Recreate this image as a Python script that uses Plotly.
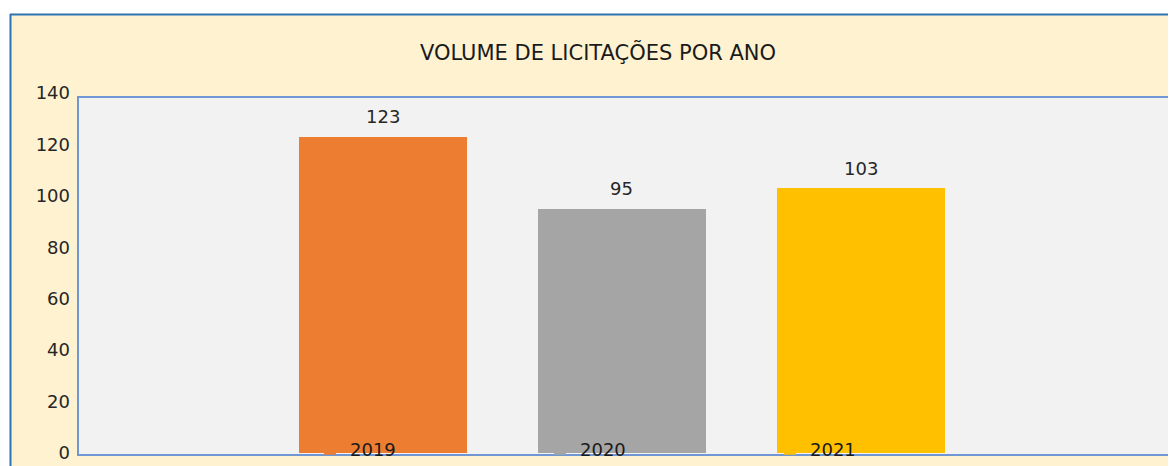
import plotly.graph_objects as go

# chart data
years = ["2019", "2020", "2021"]
volumes = [123, 95, 103]
colors = ["#ED7D31", "#A5A5A5", "#FFC000"]
y_ticks = [0, 20, 40, 60, 80, 100, 120, 140]

# page has an 8px body margin, so the figure is sized to fill the rest
OFF = 8
W, H = 1176 - OFF, 466 - OFF
# plot area = data range 0..140 (page y 93..453); visible frame drawn as a shape
L, R, T, B = 78 - OFF, 7, 93 - OFF, 13
pw, ph = W - L - R, H - T - B

CREAM = "#FEF2D0"
BLUE = "#7196D4"
FONT = "DejaVu Sans"


def px_x(p):
    # page pixel -> paper coordinate
    return (p - OFF - L) / pw


def px_y(p):
    return 1 - (p - OFF - T) / ph


fig = go.Figure()
for i, (yr, v, c) in enumerate(zip(years, volumes, colors)):
    fig.add_trace(go.Bar(x=[i], y=[v], name=yr, width=0.70,
                         marker=dict(color=c, line_width=0)))
    fig.add_annotation(x=i, y=v, xref="x", yref="y", text=str(v), showarrow=False,
                       yanchor="middle", yshift=20,
                       font=dict(size=18, color="#262626", family=FONT))

fig.update_layout(
    width=W, height=H,
    margin=dict(l=L, r=R, t=T, b=B, pad=0, autoexpand=False),
    paper_bgcolor=CREAM,
    plot_bgcolor="rgba(0,0,0,0)",
    bargap=0,
    title=dict(text="VOLUME DE LICITAÇÕES POR ANO", x=(598 - OFF) / W, xanchor="center",
               y=1 - (53 - OFF) / H, yanchor="middle",
               font=dict(size=21, color="#1a1a1a", family=FONT)),
    font=dict(family=FONT, color="#262626"),
    showlegend=True,
    legend=dict(orientation="h", x=px_x(310), xanchor="left",
                y=px_y(449), yanchor="middle",
                bgcolor="rgba(0,0,0,0)", entrywidth=185, entrywidthmode="pixels",
                font=dict(size=18, color="#1a1a1a", family=FONT), itemwidth=30),
    xaxis=dict(range=[-1.276, 3.289], showticklabels=False, ticks="",
               showline=False, showgrid=False, zeroline=False),
    yaxis=dict(range=[0, 140], tickvals=y_ticks, showgrid=False, zeroline=False,
               showline=False, ticks="", ticklabelstandoff=7,
               tickfont=dict(size=18, color="#262626", family=FONT)),
    shapes=[
        # plot frame (drawn a few px below the data range, like the original)
        dict(type="rect", xref="paper", yref="paper", layer="below",
             x0=px_x(78), x1=px_x(1169), y0=px_y(455), y1=px_y(97),
             fillcolor="#F2F2F2", line=dict(color=BLUE, width=2)),
        dict(type="rect", xref="paper", yref="paper", x0=px_x(0), x1=px_x(1200),
             y0=px_y(13.5), y1=px_y(0), fillcolor="white", line_width=0),
        dict(type="rect", xref="paper", yref="paper", x0=px_x(0), x1=px_x(9.5),
             y0=px_y(500), y1=px_y(0), fillcolor="white", line_width=0),
        dict(type="line", xref="paper", yref="paper", x0=px_x(10), x1=px_x(1200),
             y0=px_y(14.5), y1=px_y(14.5), line=dict(color="#2E75B6", width=2)),
        dict(type="line", xref="paper", yref="paper", x0=px_x(10.5), x1=px_x(10.5),
             y0=px_y(14), y1=px_y(500), line=dict(color="#2E75B6", width=2)),
    ],
)

fig.write_html("out.html")
